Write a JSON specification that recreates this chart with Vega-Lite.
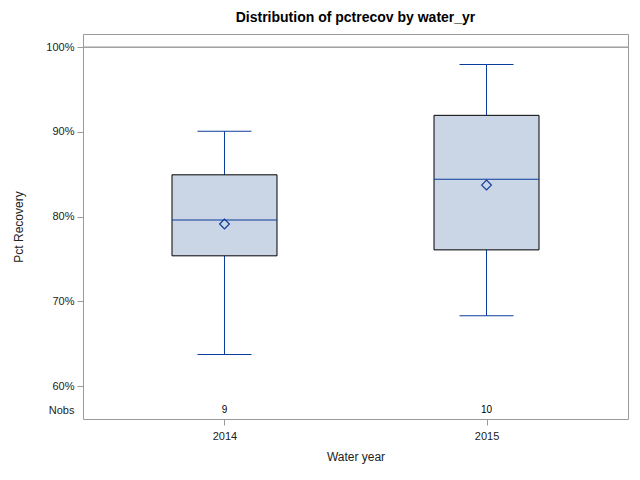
{
  "$schema": "https://vega.github.io/schema/vega-lite/v6.json",
  "autosize": {"type": "none"},
  "padding": {"left": 83, "top": 34, "right": 12, "bottom": 61},
  "width": 545,
  "height": 385,
  "background": "white",
  "title": {"text": "Distribution of pctrecov by water_yr", "font": "Liberation Sans", "fontSize": 14, "fontWeight": "bold", "color": "black", "offset": 9, "anchor": "middle"},
  "config": {
    "view": {"stroke": "#9a9a9a", "strokeWidth": 1},
    "axis": {"labelFont": "Liberation Sans", "titleFont": "Liberation Sans", "labelFontSize": 11, "titleFontSize": 12, "titleFontWeight": "normal", "labelColor": "#222", "titleColor": "#222", "tickColor": "#9a9a9a", "domain": false, "grid": false, "tickSize": 6}
  },
  "data": {"values": [
    {"water_yr": "2014", "lower": 0.6373, "q1": 0.7538, "median": 0.7961, "mean": 0.7914, "q3": 0.8494, "upper": 0.9008, "nobs": 9},
    {"water_yr": "2015", "lower": 0.6832, "q1": 0.7608, "median": 0.8443, "mean": 0.8373, "q3": 0.9196, "upper": 0.9796, "nobs": 10}
  ]},
  "layer": [
    {
      "mark": {"type": "rule", "color": "#0B3C9A", "strokeWidth": 1},
      "encoding": {
        "x": {"field": "water_yr", "type": "nominal", "scale": {"type": "point", "padding": 0.54}, "axis": {"title": "Water year", "labelAngle": 0, "labelPadding": 5, "titlePadding": 10}},
        "y": {"field": "lower", "type": "quantitative", "scale": {"domain": [0.5612, 1.0156], "nice": false, "zero": false},
              "axis": {"title": "Pct Recovery", "values": [0.5718, 0.6, 0.7, 0.8, 0.9, 1.0], "labelExpr": "datum.value < 0.59 ? 'Nobs' : format(datum.value, '.0%')", "tickOpacity": {"condition": {"test": "datum.value < 0.59", "value": 0}, "value": 1}, "labelPadding": 3, "titleX": -65, "titleBaseline": "middle"}},
        "y2": {"field": "q1"}
      }
    },
    {
      "mark": {"type": "rule", "color": "#0B3C9A", "strokeWidth": 1},
      "encoding": {
        "x": {"field": "water_yr", "type": "nominal"},
        "y": {"field": "q3", "type": "quantitative"},
        "y2": {"field": "upper"}
      }
    },
    {
      "mark": {"type": "bar", "fill": "#CAD5E5", "stroke": "black", "strokeWidth": 1, "size": 105},
      "encoding": {
        "x": {"field": "water_yr", "type": "nominal"},
        "y": {"field": "q1", "type": "quantitative"},
        "y2": {"field": "q3"}
      }
    },
    {
      "mark": {"type": "tick", "color": "#0B3C9A", "size": 105, "thickness": 1, "opacity": 1},
      "encoding": {
        "x": {"field": "water_yr", "type": "nominal"},
        "y": {"field": "median", "type": "quantitative"}
      }
    },
    {
      "mark": {"type": "tick", "color": "#0B3C9A", "size": 54, "thickness": 1, "opacity": 1},
      "encoding": {
        "x": {"field": "water_yr", "type": "nominal"},
        "y": {"field": "lower", "type": "quantitative"}
      }
    },
    {
      "mark": {"type": "tick", "color": "#0B3C9A", "size": 54, "thickness": 1, "opacity": 1},
      "encoding": {
        "x": {"field": "water_yr", "type": "nominal"},
        "y": {"field": "upper", "type": "quantitative"}
      }
    },
    {
      "mark": {"type": "point", "shape": "diamond", "filled": false, "stroke": "#0B3C9A", "strokeWidth": 1.2, "size": 95, "opacity": 1},
      "encoding": {
        "x": {"field": "water_yr", "type": "nominal"},
        "y": {"field": "mean", "type": "quantitative"}
      }
    },
    {
      "mark": {"type": "text", "font": "Liberation Sans", "fontSize": 10, "color": "black", "baseline": "middle"},
      "encoding": {
        "x": {"field": "water_yr", "type": "nominal"},
        "y": {"datum": 0.5718, "type": "quantitative"},
        "text": {"field": "nobs", "type": "quantitative"}
      }
    },
    {
      "mark": {"type": "rule", "color": "#9a9a9a", "strokeWidth": 1},
      "encoding": {
        "y": {"datum": 1.0, "type": "quantitative"}
      }
    }
  ]
}
